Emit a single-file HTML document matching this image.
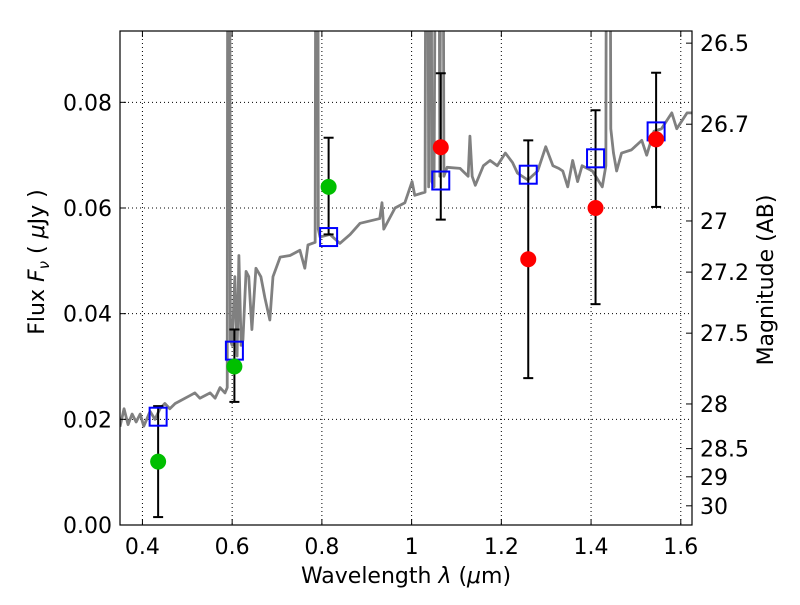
<!DOCTYPE html>
<html><head><meta charset="utf-8"><style>
body{margin:0;background:#fff}
svg text{font-family:"DejaVu Sans","Liberation Sans",sans-serif;fill:#000}
</style></head><body>
<svg id="chart" width="800" height="600" xmlns="http://www.w3.org/2000/svg"></svg>
<script>
const specLam=[0.350,0.359,0.368,0.377,0.386,0.395,0.403,0.417,0.428,0.439,0.450,0.461,0.473,0.484,0.506,0.517,0.528,0.551,0.562,0.573,0.584,0.589,0.591,0.593,0.596,0.600,0.606,0.611,0.615,0.620,0.624,0.631,0.637,0.644,0.653,0.664,0.673,0.684,0.691,0.707,0.729,0.751,0.762,0.769,0.785,0.788,0.790,0.792,0.796,0.818,0.840,0.863,0.885,0.929,0.934,0.938,0.963,0.985,1.001,1.007,1.030,1.034,1.038,1.042,1.045,1.050,1.058,1.063,1.068,1.072,1.079,1.108,1.126,1.130,1.135,1.142,1.160,1.175,1.191,1.209,1.225,1.236,1.259,1.281,1.299,1.315,1.328,1.337,1.348,1.359,1.370,1.380,1.403,1.425,1.433,1.436,1.440,1.444,1.450,1.457,1.468,1.490,1.513,1.524,1.540,1.557,1.580,1.591,1.614,1.630];
const specFlux=[0.0186,0.022,0.019,0.021,0.0195,0.021,0.0187,0.0215,0.020,0.022,0.023,0.022,0.023,0.0235,0.0245,0.025,0.024,0.025,0.024,0.026,0.025,0.026,0.2,0.2,0.035,0.034,0.047,0.032,0.051,0.034,0.035,0.048,0.047,0.037,0.0486,0.047,0.043,0.0388,0.047,0.0507,0.051,0.052,0.0486,0.053,0.0535,0.2,0.2,0.056,0.0545,0.055,0.0533,0.055,0.0571,0.058,0.061,0.056,0.060,0.061,0.065,0.0624,0.063,0.2,0.064,0.2,0.065,0.064,0.2,0.066,0.2,0.066,0.0677,0.0675,0.066,0.0736,0.066,0.0643,0.068,0.069,0.068,0.0704,0.0686,0.0666,0.0653,0.067,0.0716,0.068,0.0675,0.067,0.064,0.069,0.065,0.068,0.067,0.064,0.068,0.2,0.2,0.075,0.0704,0.067,0.0704,0.071,0.0728,0.070,0.0745,0.075,0.078,0.075,0.078,0.078];
const photLam=[0.435,0.605,0.815,1.065,1.26,1.41,1.545];
const photFlux=[0.012,0.030,0.064,0.0715,0.0503,0.060,0.073];
const errLo=[0.0015,0.0233,0.055,0.0578,0.0278,0.0418,0.0602];
const errHi=[0.0225,0.0370,0.0733,0.0855,0.0728,0.0785,0.0856];
const photColor=['#00bf00','#00bf00','#00bf00','red','red','red','red'];
const modelFlux=[0.0205,0.0330,0.0545,0.0652,0.0663,0.0694,0.0745];
const xTicks=[0.4,0.6,0.8,1.0,1.2,1.4,1.6];
const xTickLabels=['0.4','0.6','0.8','1','1.2','1.4','1.6'];
const yTicks=[0,0.02,0.04,0.06,0.08];
const yTickLabels=['0.00','0.02','0.04','0.06','0.08'];
const magTicks=[26.5,26.7,27,27.2,27.5,28,28.5,29,30];
const magTickLabels=['26.5','26.7','27','27.2','27.5','28','28.5','29','30'];

const L=120,R=692,T=31,B=525,x0=0.35,x1=1.625,y0=0,y1=0.0935;
const X=v=>L+(v-x0)/(x1-x0)*(R-L);
const Y=v=>B-(v-y0)/(y1-y0)*(B-T);
const NS='http://www.w3.org/2000/svg';
const svg=document.getElementById('chart');
function mk(tag,attrs,parent){const e=document.createElementNS(NS,tag);for(const k in attrs)e.setAttribute(k,attrs[k]);(parent||svg).appendChild(e);return e;}
const defs=mk('defs',{});const cp=mk('clipPath',{id:'clip'},defs);mk('rect',{x:L,y:T,width:R-L,height:B-T},cp);
const g=mk('g',{'clip-path':'url(#clip)'});
xTicks.forEach((t,i)=>{const l=mk('line',{x1:X(t),x2:X(t),y1:T,y2:B,stroke:'#000','stroke-width':1,'stroke-dasharray':'1,3'},g);

});
yTicks.forEach(t=>{const l=mk('line',{x1:L,x2:R,y1:Y(t),y2:Y(t),stroke:'#000','stroke-width':1,'stroke-dasharray':'1,3'},g);

});
const sp=mk('polyline',{points:specLam.map((l,i)=>X(l)+','+Y(specFlux[i])).join(' '),fill:'none',stroke:'#808080','stroke-width':2.8,'stroke-linejoin':'round'},g);


photLam.forEach((l,i)=>{const eg=mk('g',{stroke:'#000','stroke-width':2},g);


mk('line',{x1:X(l),x2:X(l),y1:Y(errLo[i]),y2:Y(errHi[i])},eg);
mk('line',{x1:X(l)-5,x2:X(l)+5,y1:Y(errLo[i]),y2:Y(errLo[i])},eg);
mk('line',{x1:X(l)-5,x2:X(l)+5,y1:Y(errHi[i]),y2:Y(errHi[i])},eg);});
photLam.forEach((l,i)=>{const r=mk('rect',{x:X(l)-8.5,y:Y(modelFlux[i])-9,width:17,height:18,fill:'none',stroke:'#0000ff','stroke-width':2},g);

});
photLam.forEach((l,i)=>{const c=mk('circle',{cx:X(l),cy:Y(photFlux[i]),r:8,fill:photColor[i]},g);

});
const fr=mk('rect',{x:L,y:T,width:R-L,height:B-T,fill:'none',stroke:'#000','stroke-width':1.2});


xTicks.forEach((t,i)=>{mk('line',{x1:X(t),x2:X(t),y1:B,y2:B-6,stroke:'#000'});mk('line',{x1:X(t),x2:X(t),y1:T,y2:T+6,stroke:'#000'});
const tx=mk('text',{x:X(t),y:B+29,'font-size':22,'text-anchor':'middle'});tx.textContent=xTickLabels[i];

});
yTicks.forEach((t,i)=>{mk('line',{x1:L,x2:L+6,y1:Y(t),y2:Y(t),stroke:'#000'});
const tx=mk('text',{x:L-8,y:Y(t)+8,'font-size':22,'text-anchor':'end'});tx.textContent=yTickLabels[i];

});
magTicks.forEach((m,i)=>{const f=Math.pow(10,(23.9-m)/2.5);const y=Y(f);
mk('line',{x1:R,x2:R-6,y1:y,y2:y,stroke:'#000'});
const tx=mk('text',{x:R+8,y:y+8,'font-size':22});tx.textContent=magTickLabels[i];

});
const xl=mk('text',{x:406,y:583,'font-size':22,'text-anchor':'middle'});
xl.innerHTML='Wavelength  <tspan font-style="italic">λ</tspan> (<tspan font-style="italic">μ</tspan>m)';


const yl=mk('text',{x:0,y:0,'font-size':22,'text-anchor':'middle',transform:'translate(44,262) rotate(-90)'});
yl.innerHTML='Flux  <tspan font-style="italic">F</tspan><tspan font-style="italic" font-size="15" dy="5">ν</tspan><tspan dy="-5">  (  </tspan><tspan font-style="italic">μ</tspan>Jy )';


const ml=mk('text',{x:0,y:0,'font-size':22,'text-anchor':'middle',transform:'translate(773,280) rotate(-90)'});ml.textContent='Magnitude (AB)';


</script>
</body></html>
